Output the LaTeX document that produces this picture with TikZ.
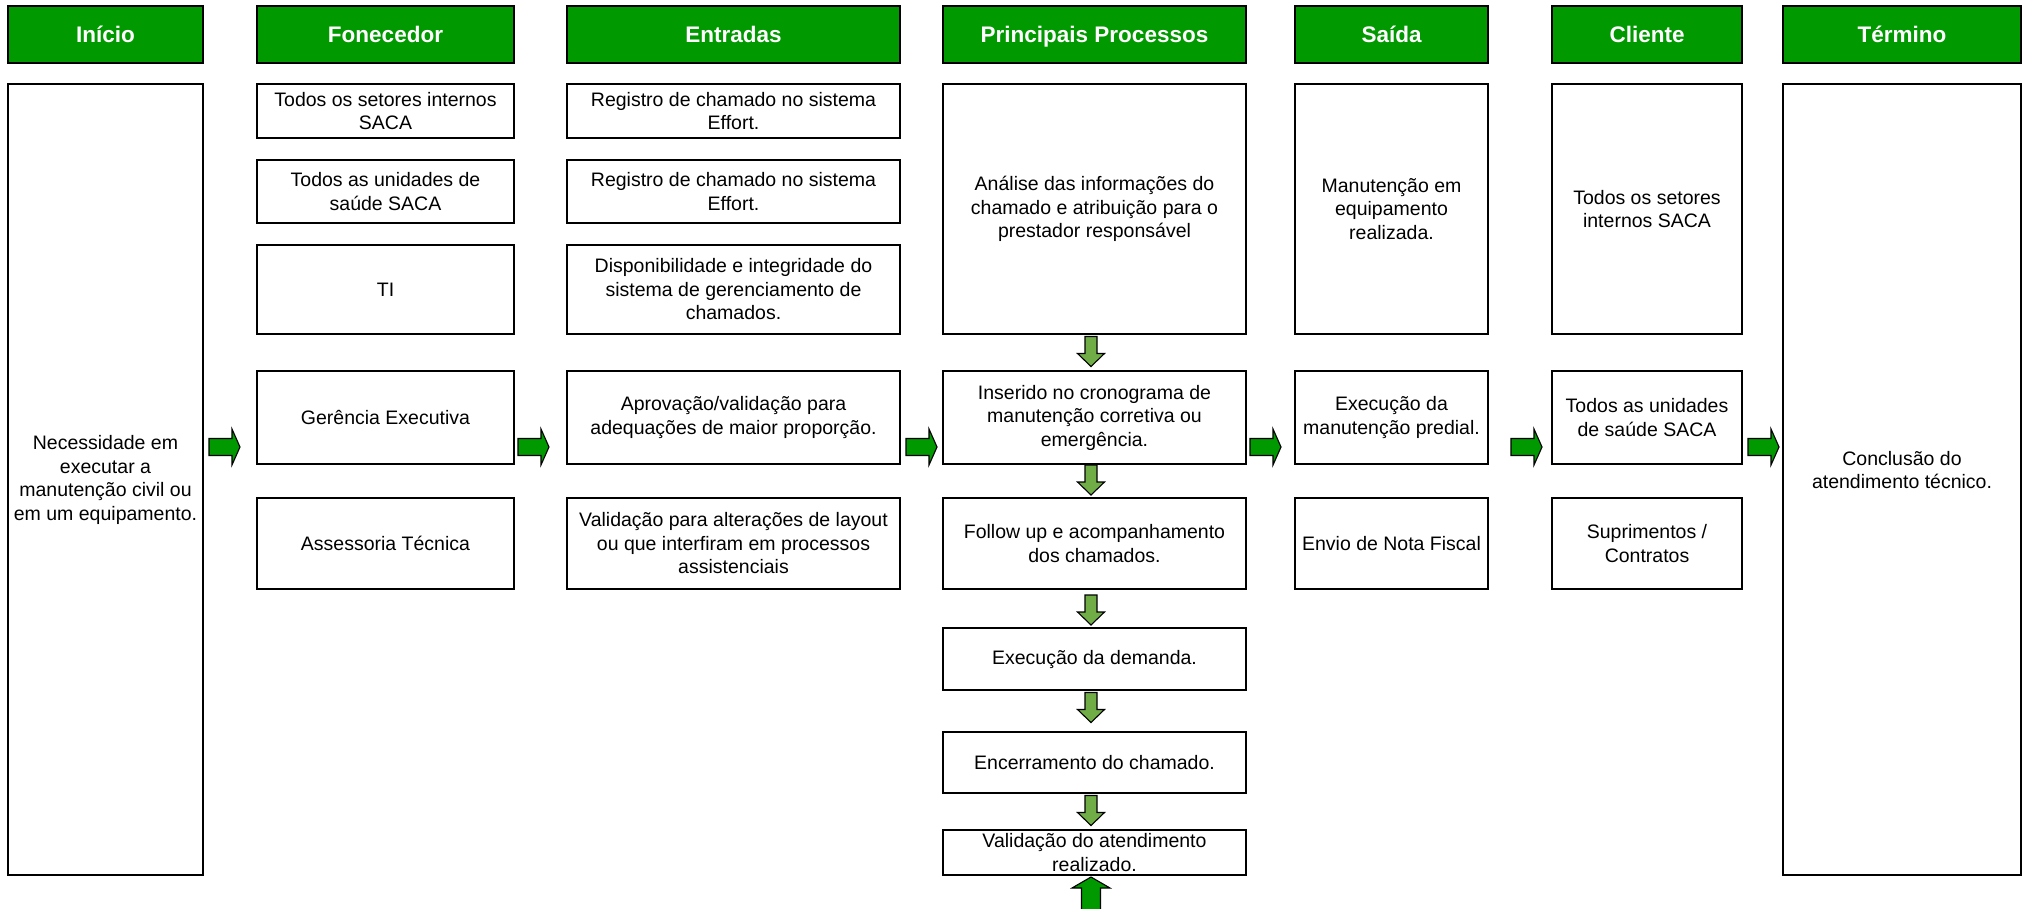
\documentclass[tikz,border=0pt]{standalone}
\usepackage{fontspec}
\setmainfont{Liberation Sans}
\definecolor{hdr}{RGB}{0,153,0}
\definecolor{darkg}{RGB}{0,153,0}
\definecolor{lightg}{RGB}{112,173,71}
\newcommand\bx[7][box]{\node[#1, minimum width={(#5-#3)*1pt}, minimum height={(#6-#4)*1pt}] (#2) at ({(#3+#5)/2},{(#4+#6)/2}) {#7};}
\begin{document}
\begin{tikzpicture}[x=1pt,y=-1pt,
  box/.style={draw=black, line width=2.6pt, fill=white, align=center, inner sep=0pt,
    font=\fontsize{19.5}{23.5}\selectfont, text=black},
  head/.style={draw=black, line width=2.4pt, fill=hdr, inner sep=0pt, text=white,
    text height=18.5pt, text depth=2pt,
    font=\fontsize{22.5}{26}\selectfont\bfseries},
  lbl/.style={align=center, inner sep=0pt, font=\fontsize{19.5}{23.5}\selectfont, text=black},
  arrowline/.style={draw=black, line width=1.1pt},
  rarr/.pic={\draw[arrowline, fill=darkg] (-15.5,-8.5) -- (7.5,-8.5) -- (7.5,-18) -- (15.5,0) -- (7.5,18) -- (7.5,8.5) -- (-15.5,8.5) -- cycle;},
  darr/.pic={\draw[arrowline, fill=lightg] (-6,-15) -- (6,-15) -- (6,2) -- (13.5,2) -- (0,15) -- (-13.5,2) -- (-6,2) -- cycle;}
]
\useasboundingbox[fill=white] (0,0) rectangle (2029,909);

% headers
\bx[head]{h1}{8}{6}{203}{63}{Início}
\bx[head]{h2}{257}{6}{514}{63}{Fonecedor}
\bx[head]{h3}{567}{6}{900}{63}{Entradas}
\bx[head]{h4}{943}{6}{1246}{63}{Principais Processos}
\bx[head]{h5}{1295}{6}{1488}{63}{Saída}
\bx[head]{h6}{1552}{6}{1742}{63}{Cliente}
\bx[head]{h7}{1783}{6}{2021}{63}{Término}

% Inicio
\bx{ini}{8}{84}{203}{875}{}
\node[lbl] (initxt) at (105.5,480) {Necessidade em\\executar a\\manutenção civil ou\\em um equipamento.};

% Fonecedor
\bx{f1}{257}{84}{514}{138}{Todos os setores internos\\SACA}
\bx{f2}{257}{160}{514}{223}{Todos as unidades de\\saúde SACA}
\bx{f3}{257}{245}{514}{334}{TI}
\bx{f4}{257}{371}{514}{464}{Gerência Executiva}
\bx{f5}{257}{498}{514}{589}{Assessoria Técnica}

% Entradas
\bx{e1}{567}{84}{900}{138}{Registro de chamado no sistema\\Effort.}
\bx{e2}{567}{160}{900}{223}{Registro de chamado no sistema\\Effort.}
\bx{e3}{567}{245}{900}{334}{Disponibilidade e integridade do\\sistema de gerenciamento de\\chamados.}
\bx{e4}{567}{371}{900}{464}{Aprovação/validação para\\adequações de maior proporção.}
\bx{e5}{567}{498}{900}{589}{Validação para alterações de layout\\ou que interfiram em processos\\assistenciais}

% Principais Processos
\bx{p1}{943}{84}{1246}{334}{Análise das informações do\\chamado e atribuição para o\\prestador responsável}
\bx{p2}{943}{371}{1246}{464}{Inserido no cronograma de\\manutenção corretiva ou\\emergência.}
\bx{p3}{943}{498}{1246}{589}{Follow up e acompanhamento\\dos chamados.}
\bx{p4}{943}{628}{1246}{690}{Execução da demanda.}
\bx{p5}{943}{732}{1246}{793}{Encerramento do chamado.}
\bx{p6}{943}{830}{1246}{875}{Validação do atendimento\\realizado.}

% Saida
\bx{s1}{1295}{84}{1488}{334}{Manutenção em\\equipamento\\realizada.}
\bx{s2}{1295}{371}{1488}{464}{Execução da\\manutenção predial.}
\bx{s3}{1295}{498}{1488}{589}{Envio de Nota Fiscal}

% Cliente
\bx{c1}{1552}{84}{1742}{334}{Todos os setores\\internos SACA}
\bx{c2}{1552}{371}{1742}{464}{Todos as unidades\\de saúde SACA}
\bx{c3}{1552}{498}{1742}{589}{Suprimentos /\\Contratos}

% Termino
\bx{ter}{1783}{84}{2021}{875}{}
\node[lbl] (tertxt) at (1902,470) {Conclusão do\\atendimento técnico.};

% horizontal block arrows
\pic (ra1) at (224.5,447) {rarr};
\pic (ra2) at (533.5,447) {rarr};
\pic (ra3) at (921.5,447) {rarr};
\pic (ra4) at (1265.5,447) {rarr};
\pic (ra5) at (1526.5,447) {rarr};
\pic (ra6) at (1763.5,447) {rarr};

% down block arrows
\pic (da1) at (1091,351.5) {darr};
\pic (da2) at (1091,480) {darr};
\pic (da3) at (1091,610) {darr};
\pic (da4) at (1091,707.5) {darr};
\pic (da5) at (1091,810.5) {darr};

% up arrow at bottom
\draw[arrowline, fill=darkg] (1091,877) -- (1110,888) -- (1100.5,888) -- (1100.5,915) -- (1081.5,915) -- (1081.5,888) -- (1072,888) -- cycle;
\end{tikzpicture}
\end{document}
